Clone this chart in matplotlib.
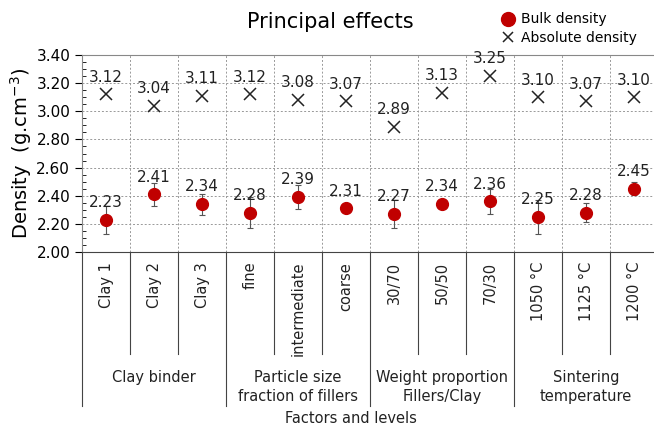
import numpy as np
import matplotlib.pyplot as plt
from matplotlib.lines import Line2D
from matplotlib.ticker import MultipleLocator

# data
levels = ['Clay 1', 'Clay 2', 'Clay 3', 'fine', 'intermediate', 'coarse',
          '30/70', '50/50', '70/30', '1050 °C', '1125 °C', '1200 °C']
groups = ['Clay binder', 'Particle size\nfraction of fillers',
          'Weight proportion\nFillers/Clay', 'Sintering\ntemperature']
group_sizes = [3, 3, 3, 3]
bulk = [2.23, 2.41, 2.34, 2.28, 2.39, 2.31, 2.27, 2.34, 2.36, 2.25, 2.28, 2.45]
bulk_err = [0.10, 0.08, 0.075, 0.11, 0.085, 0.01, 0.10, 0.01, 0.09, 0.12, 0.07, 0.045]
absolute = [3.12, 3.04, 3.11, 3.12, 3.08, 3.07, 2.89, 3.13, 3.25, 3.10, 3.07, 3.10]

fig = plt.figure(figsize=(6.54, 4.30), dpi=100)
ax = fig.add_axes([0.1254, 0.414, 0.881, 0.458])

x = np.arange(len(levels))
ax.errorbar(x, bulk, yerr=bulk_err, fmt='none', ecolor='#555555',
            elinewidth=0.8, capsize=2, capthick=0.8, zorder=2)
ax.plot(x, bulk, 'o', color='#c00000', markersize=8.5, zorder=3)
ax.plot(x, absolute, 'x', color='#222222', markersize=8, mew=1.1, zorder=3)

for xi, v in zip(x, bulk):
    ax.annotate(f'{v:.2f}', (xi, v), xytext=(0, 7), textcoords='offset points',
                ha='center', va='bottom', fontsize=11, color='#222222')
for xi, v in zip(x, absolute):
    ax.annotate(f'{v:.2f}', (xi, v), xytext=(0, 7), textcoords='offset points',
                ha='center', va='bottom', fontsize=11, color='#222222')

ax.set_xlim(-0.5, len(levels) - 0.5)
ax.set_ylim(2.0, 3.4)
ax.yaxis.set_major_locator(MultipleLocator(0.2))
ax.yaxis.set_minor_locator(MultipleLocator(0.05))
ax.yaxis.set_major_formatter(lambda v, p: f'{v:.2f}')
ax.tick_params(axis='y', which='major', labelsize=11, length=5, direction='out')
ax.tick_params(axis='y', which='minor', length=3, direction='in')
ax.set_xticks([])
ax.grid(False)
for yv in np.arange(2.2, 3.41, 0.2):
    ax.axhline(yv, color='#999999', ls=(0, (2, 2)), lw=0.7, zorder=0)
for xv in np.arange(0.5, len(levels) - 0.5):
    ax.axvline(xv, color='#999999', ls=(0, (2, 2)), lw=0.7, zorder=0)

ax.spines['right'].set_visible(False)
ax.spines['top'].set_color('#888888')
ax.spines['left'].set_color('#888888')
ax.spines['bottom'].set_color('#444444')

ax.set_ylabel('Density  (g.cm$^{-3}$)', fontsize=14, labelpad=2)

# category labels and separators under the axis
trans = ax.get_xaxis_transform()
for xi, lab in zip(x, levels):
    ax.text(xi, -0.05, lab, rotation=90, ha='center', va='top', fontsize=10.5,
            transform=trans, color='#222222')
start = 0
bounds = [-0.5]
for g, n in zip(groups, group_sizes):
    mid = start + (n - 1) / 2
    ax.text(mid, -0.6, g, ha='center', va='top', fontsize=10.5,
            transform=trans, color='#222222', linespacing=1.3)
    start += n
    bounds.append(start - 0.5)
for xv in np.arange(-0.5, len(levels)):
    depth = -0.78 if xv in bounds else -0.52
    ax.plot([xv, xv], [0, depth], color='#444444', lw=0.8, transform=trans,
            clip_on=False)
ax.text(0.5 * (len(levels) - 1) - 0.4, -0.805, 'Factors and levels', ha='center',
        va='top', fontsize=10.5, transform=trans, color='#222222')

fig.text(0.505, 0.95, 'Principal effects', ha='center', va='center', fontsize=15)

handles = [Line2D([], [], marker='o', color='#c00000', ls='none', markersize=10),
           Line2D([], [], marker='x', color='#222222', ls='none', markersize=7, mew=1.1)]
fig.legend(handles, ['Bulk density', 'Absolute density'], loc='upper left',
           bbox_to_anchor=(0.745, 1.0), frameon=False, fontsize=10,
           handletextpad=0.3, labelspacing=0.3, handlelength=1.2)

fig.savefig('out.png', dpi=100)
